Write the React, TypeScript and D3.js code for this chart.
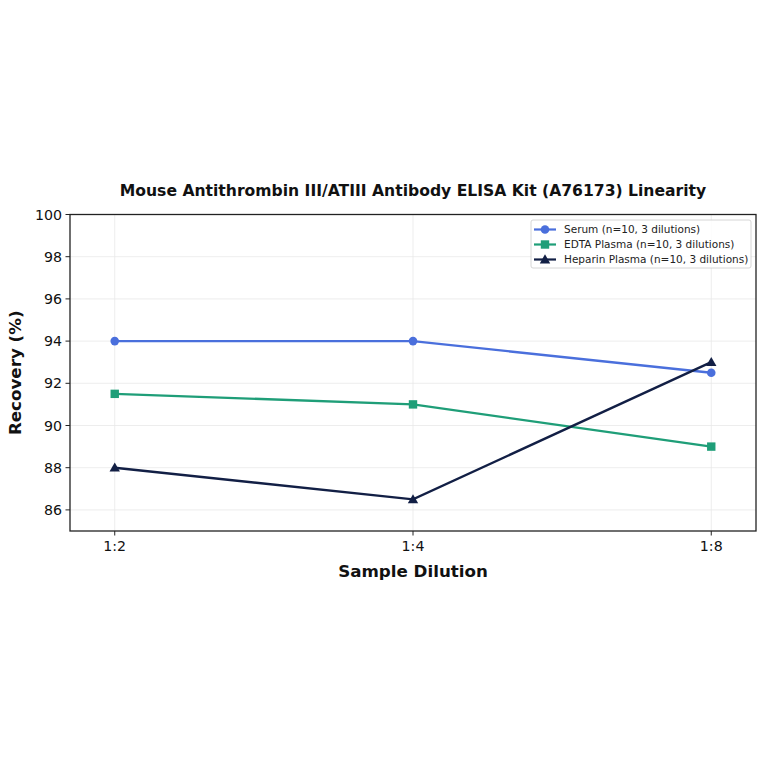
import React from "react";
import * as d3 from "d3";

const categories = ["1:2", "1:4", "1:8"];
const serum = [94, 94, 92.5];
const edta = [91.5, 91, 89];
const heparin = [88, 86.5, 93];
const yTicks = [86, 88, 90, 92, 94, 96, 98, 100];
const seriesNames = [
  "Serum (n=10, 3 dilutions)",
  "EDTA Plasma (n=10, 3 dilutions)",
  "Heparin Plasma (n=10, 3 dilutions)",
];
const colors = ["#4a6fdc", "#1f9e78", "#121f45"];
const markers = ["circle", "square", "triangle"];

const L = 70, R = 756, T = 214.5, B = 531;

function Marker({ type, x, y, color }: { type: string; x: number; y: number; color: string }) {
  if (type === "circle") return <circle cx={x} cy={y} r={4.3} fill={color} />;
  if (type === "square") return <rect x={x - 4.2} y={y - 4.2} width={8.4} height={8.4} fill={color} />;
  const s = 5.2;
  return <path d={`M${x},${y - s}L${x + s},${y + s * 0.75}L${x - s},${y + s * 0.75}Z`} fill={color} />;
}

export default function App() {
  const x = d3.scaleLinear().domain([-0.15, 2.15]).range([L, R]);
  const y = d3.scaleLinear().domain([85, 100]).range([B, T]);
  const data = [serum, edta, heparin];
  const line = d3
    .line<number>()
    .x((_, i) => x(i))
    .y((d) => y(d));
  const font = "DejaVu Sans, sans-serif";
  return (
    <svg width={764} height={764} style={{ position: "absolute", left: 0, top: 0 }} fontFamily={font}>
      <rect width={764} height={764} fill="#fff" />
      {yTicks.map((t) => (
        <line key={"gy" + t} x1={L} x2={R} y1={y(t)} y2={y(t)} stroke="#e8e8e8" strokeWidth={0.8} />
      ))}
      {categories.map((c, i) => (
        <line key={"gx" + c} x1={x(i)} x2={x(i)} y1={T} y2={B} stroke="#e8e8e8" strokeWidth={0.8} />
      ))}
      {data.map((d, k) => (
        <g key={k}>
          <path d={line(d) || ""} fill="none" stroke={colors[k]} strokeWidth={2.4} />
          {d.map((v, i) => (
            <Marker key={i} type={markers[k]} x={x(i)} y={y(v)} color={colors[k]} />
          ))}
        </g>
      ))}
      <rect x={L} y={T} width={R - L} height={B - T} fill="none" stroke="#222" strokeWidth={1.3} />
      {yTicks.map((t) => (
        <g key={"yt" + t}>
          <line x1={L - 4.5} x2={L} y1={y(t)} y2={y(t)} stroke="#222" />
          <text x={L - 8} y={y(t)} dy="0.36em" textAnchor="end" fontSize={14.2} fill="#111">
            {t}
          </text>
        </g>
      ))}
      {categories.map((c, i) => (
        <g key={"xt" + c}>
          <line x1={x(i)} x2={x(i)} y1={B} y2={B + 4.5} stroke="#222" />
          <text x={x(i)} y={B + 20} textAnchor="middle" fontSize={14.2} fill="#111">
            {c}
          </text>
        </g>
      ))}
      <text x={(L + R) / 2} y={577} textAnchor="middle" fontSize={16.7} fontWeight="bold" fill="#111">
        Sample Dilution
      </text>
      <text
        transform={`translate(21,${(T + B) / 2}) rotate(-90)`}
        textAnchor="middle"
        fontSize={16.7}
        fontWeight="bold"
        fill="#111"
      >
        Recovery (%)
      </text>
      <text x={(L + R) / 2} y={196} textAnchor="middle" fontSize={15.6} fontWeight="bold" fill="#111">
        Mouse Antithrombin III/ATIII Antibody ELISA Kit (A76173) Linearity
      </text>
      <g>
        <rect x={531} y={220} width={220} height={48} rx={2} fill="#fff" fillOpacity={0.85} stroke="#ccc" strokeWidth={0.8} />
        {seriesNames.map((n, k) => {
          const ly = 229.5 + k * 15;
          return (
            <g key={n}>
              <line x1={534} x2={556} y1={ly} y2={ly} stroke={colors[k]} strokeWidth={2.2} />
              <Marker type={markers[k]} x={545} y={ly} color={colors[k]} />
              <text x={564} y={ly} dy="0.35em" fontSize={10.5} fill="#222">
                {n}
              </text>
            </g>
          );
        })}
      </g>
    </svg>
  );
}
